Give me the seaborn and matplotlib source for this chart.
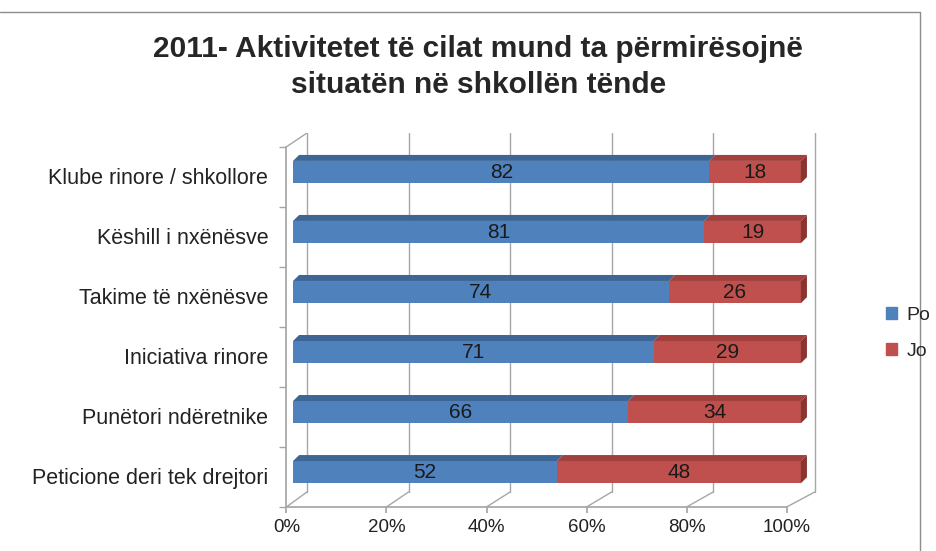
import pandas as pd
import seaborn as sns
import matplotlib.pyplot as plt
import matplotlib.transforms as mtransforms
from matplotlib.patches import Patch, Polygon
from matplotlib.lines import Line2D

# Data
categories = ['Klube rinore / shkollore', 'Këshill i nxënësve', 'Takime të nxënësve',
              'Iniciativa rinore', 'Punëtori ndëretnike', 'Peticione deri tek drejtori']
po = [82, 81, 74, 71, 66, 52]
jo = [18, 19, 26, 29, 34, 48]
xticks = [0, 20, 40, 60, 80, 100]

df = pd.DataFrame({'cat': categories, 'Po': po, 'Jo': jo})
df['total'] = df['Po'] + df['Jo']

sns.set_theme(style='white')
plt.rcParams['font.family'] = ['Liberation Sans', 'DejaVu Sans']

blue = '#4F81BD'
red = '#C0504D'
grid_c = '#A6A6A6'
bar_h = 0.37
# fake 3D: front floor / back wall mapping of the value axis, and bar depth
front = lambda v: v * 0.985 - 1.3
back = lambda v: v + 2.75
bd, be = 1.2, 0.1

fig = plt.figure(figsize=(9.36, 5.51), dpi=100)
ax = fig.add_axes([0.306, 0.0799, 0.5686, 0.6787])

# stacked: total (red) underneath, Po (blue) on top
sns.barplot(data=df, y='cat', x='total', color=red, orient='h', width=bar_h,
            saturation=1, linewidth=0, ax=ax, zorder=3)
sns.barplot(data=df, y='cat', x='Po', color=blue, orient='h', width=bar_h,
            saturation=1, linewidth=0, ax=ax, zorder=4)

for i, (p, t) in enumerate(zip(df['Po'], df['total'])):
    top, bot = i - bar_h / 2, i + bar_h / 2
    # top faces
    ax.add_patch(Polygon([(0, top), (p, top), (p + bd, top - be), (bd, top - be)],
                         closed=True, color='#3D6696', lw=0, zorder=4))
    ax.add_patch(Polygon([(p, top), (t, top), (t + bd, top - be), (p + bd, top - be)],
                         closed=True, color='#A1403D', lw=0, zorder=3))
    # right face
    ax.add_patch(Polygon([(t, top), (t + bd, top - be), (t + bd, bot - be), (t, bot)],
                         closed=True, color='#8A3431', lw=0, zorder=3))
    ax.text(p / 2, i, str(p), ha='center', va='center', fontsize=15, color='#1a1a1a', zorder=5)
    ax.text(p + (t - p) / 2, i, str(jo[i]), ha='center', va='center', fontsize=15,
            color='#1a1a1a', zorder=5)

n = len(categories)
y_front = n - 0.42
y_back = y_front - 0.25
y_top = -0.65
x0 = front(0)

ax.set_xlim(x0, 103.5)
ax.set_ylim(y_front, y_top)

# back wall gridlines and floor
for v in xticks:
    ax.plot([back(v), back(v)], [y_back, y_top], color=grid_c, lw=1, zorder=1)
    ax.plot([front(v), back(v)], [y_front, y_back], color=grid_c, lw=1, zorder=1)
# left wall top edge
ax.plot([x0, back(0)], [-0.42, y_top], color=grid_c, lw=1, zorder=1)

ax.set_xticks([front(v) for v in xticks])
ax.set_xticklabels([f'{v}%' for v in xticks], fontsize=13.5, color='#222222')
ax.set_yticks(range(n))
ax.set_yticklabels(categories)
ax.set_yticks([k - 0.42 for k in range(n + 1)], minor=True)
ax.tick_params(axis='y', which='major', labelsize=15.5, colors='#222222', length=0, pad=13)
ax.tick_params(axis='y', which='minor', length=5, color=grid_c, left=True)
ax.tick_params(axis='x', length=4, color=grid_c, bottom=True, pad=5)
shift = mtransforms.ScaledTranslation(0, -3 / 72, fig.dpi_scale_trans)
for lab in ax.get_yticklabels():
    lab.set_transform(lab.get_transform() + shift)
ax.set_xlabel('')
ax.set_ylabel('')
for s in ['top', 'right']:
    ax.spines[s].set_visible(False)
for s in ['left', 'bottom']:
    ax.spines[s].set_color(grid_c)
ax.spines['left'].set_bounds(y_front, -0.42)
ax.spines['bottom'].set_bounds(x0, front(100))

fig.text(0.511, 0.879, '2011- Aktivitetet të cilat mund ta përmirësojnë\nsituatën në shkollën tënde',
         ha='center', va='center', fontsize=21.5, fontweight='bold', linespacing=1.35)

handles = [Patch(color=blue, label='Po'), Patch(color=red, label='Jo')]
fig.legend(handles=handles, loc='center left', bbox_to_anchor=(0.947, 0.395), frameon=False,
           fontsize=14, handlelength=0.55, handleheight=0.55, labelspacing=1.0,
           handletextpad=0.5, borderaxespad=0, borderpad=0)

# outer frame (top and right edges visible)
fig.add_artist(Line2D([0, 0.983], [0.978, 0.978], transform=fig.transFigure, color='#8C8C8C', lw=1))
fig.add_artist(Line2D([0.983, 0.983], [0, 0.978], transform=fig.transFigure, color='#8C8C8C', lw=1))

fig.savefig('out.png', dpi=100)
